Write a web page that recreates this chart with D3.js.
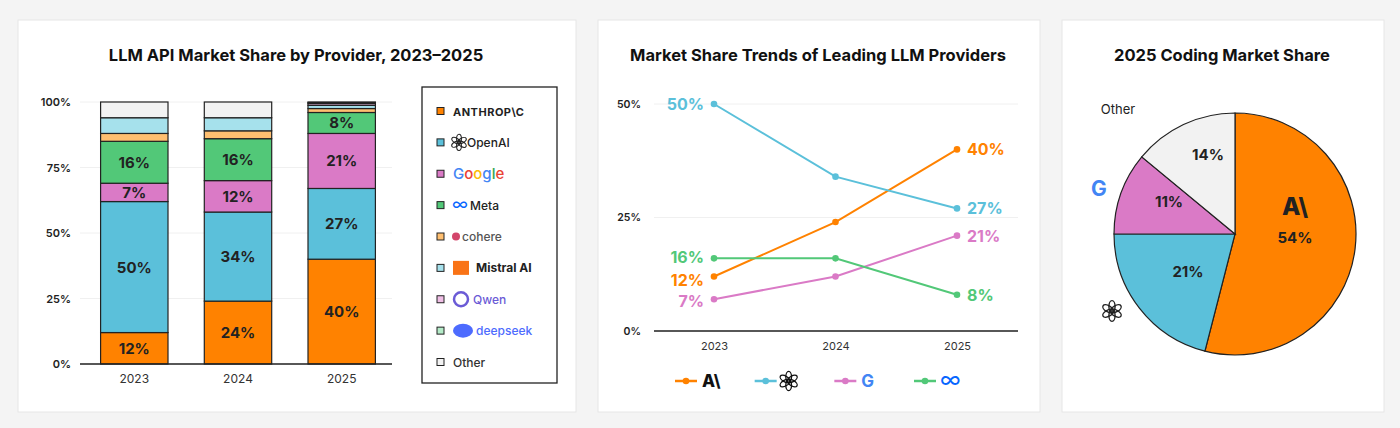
<!DOCTYPE html>
<html><head><meta charset="utf-8">
<script src="https://cdn.jsdelivr.net/npm/d3@7"></script>
<style>
body{margin:0;background:#f4f4f4;font-family:Inter,"Noto Sans",sans-serif;}
svg{display:block}
</style></head>
<body><svg id="c" width="1400" height="428"></svg>
<script>
// ---- data ----
const years = ['2023','2024','2025'];
const providers = ['ANTHROP\\C','OpenAI','Google','Meta','cohere','Mistral AI','Qwen','deepseek','Other'];
const keys = ['anthropic','openai','google','meta','cohere','mistral','qwen','deepseek','other'];
const share2023 = [12,50,7,16,3,6,0,0,6];
const share2024 = [24,34,12,16,3,5,0,0,6];
const share2025 = [40,27,21,8,1.5,1.2,0.7,0.4,0.2];
const fills = ['#ff8200','#5bc0da','#da7ac6','#52c878','#ffbf70','#a6e1ec','#f0bfe6','#b4ebc8','#f2f2f2'];
const yTicks = [0,25,50,75,100];
const lineKeys = ['anthropic','openai','google','meta'];
const lineColors = ['#ff8200','#5bc0da','#da7ac6','#52c878'];
const trendTicks = [0,25,50];
const pieLabels = ['anthropic','openai','google','other'];
const pieValues = [54,21,11,14];
const pieFills = ['#ff8200','#5bc0da','#da7ac6','#f2f2f2'];

const svg = d3.select('#c');
// panels
[[18,20,558,392],[598,20,442,392],[1062,20,322,392]].forEach(p=>{
  svg.append('rect').attr('x',p[0]).attr('y',p[1]).attr('width',p[2]).attr('height',p[3])
    .attr('fill','#fff').attr('stroke','#e6e6e6');
});
function title(x,y,t){svg.append('text').attr('x',x).attr('y',y).attr('text-anchor','middle')
  .attr('font-size',16.5).attr('font-weight',700).attr('fill','#111').text(t);}
title(296,61,'LLM API Market Share by Provider, 2023\u20132025');
title(818,61,'Market Share Trends of Leading LLM Providers');
title(1222,61,'2025 Coding Market Share');

// small logos
function openaiLogo(g,x,y,s,col){
  const l=g.append('g').attr('transform',`translate(${x},${y})`);
  for(let i=0;i<6;i++){
    l.append('ellipse').attr('cx',0).attr('cy',-s*0.32).attr('rx',s*0.22).attr('ry',s*0.42)
     .attr('transform',`rotate(${i*60})`).attr('fill','none').attr('stroke',col||'#111').attr('stroke-width',s*0.1);
  }
}
function googleG(g,x,y,s,anchor){
  g.append('text').attr('x',x).attr('y',y).attr('font-size',s).attr('font-weight',700)
   .attr('text-anchor',anchor||'start').attr('fill','#4285f4').text('G');
}

// ---- stacked bar ----
const bars = years.map((yr,i)=>{const v=[share2023,share2024,share2025][i];const o={year:yr};keys.forEach((k,j)=>o[k]=v[j]);return o;});
const x1 = d3.scaleBand().domain(years).range([84,392]).paddingInner(0.35).paddingOuter(0.16);
const y1 = d3.scaleLinear().domain([0,100]).range([364,102]);
const g1 = svg.append('g');
yTicks.forEach(t=>{
  g1.append('line').attr('x1',80).attr('x2',392).attr('y1',y1(t)).attr('y2',y1(t)).attr('stroke','#f0f0f0');
});
const stack = d3.stack().keys(keys)(bars);
stack.forEach((layer,li)=>{
  g1.selectAll(null).data(layer).join('rect')
    .attr('x',d=>x1(d.data.year)).attr('width',x1.bandwidth())
    .attr('y',d=>y1(d[1])).attr('height',d=>y1(d[0])-y1(d[1]))
    .attr('fill',fills[li]).attr('stroke','#222').attr('stroke-width',1.2);
  if(li<4) g1.selectAll(null).data(layer).join('text')
    .attr('x',d=>x1(d.data.year)+x1.bandwidth()/2).attr('y',d=>(y1(d[0])+y1(d[1]))/2+5.5)
    .attr('text-anchor','middle').attr('font-size',15).attr('font-weight',700).attr('fill','#222')
    .text(d=>(d[1]-d[0])+'%');
});
const ax1 = g1.append('g').attr('transform','translate(0,364)').call(d3.axisBottom(x1).tickSize(0).tickPadding(10));
ax1.select('.domain').attr('d','M80,0H392').attr('stroke','#222').attr('stroke-width',1.5);
ax1.selectAll('text').attr('font-size',12).attr('fill','#333').attr('font-family','Inter,sans-serif');
const ay1 = g1.append('g').attr('transform','translate(74,0)').call(d3.axisLeft(y1).tickValues(yTicks).tickSize(0).tickFormat(d=>d+'%'));
ay1.select('.domain').remove();
ay1.selectAll('text').attr('font-size',11).attr('font-weight',600).attr('fill','#222').attr('font-family','Inter,sans-serif');

// legend
const lg = svg.append('g');
lg.append('rect').attr('x',422).attr('y',87).attr('width',135).attr('height',296).attr('fill','#fff').attr('stroke','#222').attr('stroke-width',1.3);
const legY = d3.scalePoint().domain(providers).range([111,362]);
const legColors = ['#222','#222','#4285f4','#222','#555','#222','#6b5bd6','#4d6bfe','#333'];
providers.forEach((p,i)=>{
  const yy=legY(p);
  lg.append('rect').attr('x',437).attr('y',yy-3.5).attr('width',7).attr('height',7).attr('fill',fills[i]).attr('stroke','#222');
  let tx=453;
  if(p==='OpenAI'){openaiLogo(lg,459,yy,11,'#222');tx=467;}
  if(p==='Meta'){lg.append('text').attr('x',452).attr('y',yy+5).attr('font-size',17).attr('fill','#0866ff').text('\u221e');tx=470;}
  if(p==='cohere'){lg.append('circle').attr('cx',456).attr('cy',yy).attr('r',4).attr('fill','#d3466b');tx=462;}
  if(p==='Mistral AI'){lg.append('rect').attr('x',453).attr('y',yy-7).attr('width',16).attr('height',14).attr('fill','#f97316');tx=476;}
  if(p==='Qwen'){lg.append('circle').attr('cx',461).attr('cy',yy).attr('r',7).attr('fill','none').attr('stroke','#6b5bd6').attr('stroke-width',2.5);tx=473;}
  if(p==='deepseek'){lg.append('ellipse').attr('cx',463).attr('cy',yy).attr('rx',10).attr('ry',7).attr('fill','#4d6bfe');tx=476;}
  const t=lg.append('text').attr('x',tx).attr('y',yy+4.5).attr('fill',legColors[i]).text(p==='Google'?'':p)
    .attr('font-size',p==='Google'?15:12).attr('font-weight',(p==='ANTHROP\\C'||p==='Mistral AI')?700:500);
  if(p==='ANTHROP\\C') t.attr('font-size',11).attr('letter-spacing',0.5);
  if(p==='Google'){
    const gc=['#4285f4','#ea4335','#fbbc05','#4285f4','#34a853','#ea4335'];
    const tt=lg.append('text').attr('x',453).attr('y',yy+5).attr('font-size',15).attr('font-weight',500);
    'Google'.split('').forEach((c,k)=>tt.append('tspan').attr('fill',gc[k]).text(c));
  }
});

// ---- line chart ----
const x2 = d3.scalePoint().domain(years).range([714,957]);
const y2 = d3.scaleLinear().domain([0,50]).range([331,104]);
const g2 = svg.append('g');
trendTicks.forEach(t=>g2.append('line').attr('x1',654).attr('x2',1018).attr('y1',y2(t)).attr('y2',y2(t)).attr('stroke','#f0f0f0'));
const ax2=g2.append('g').attr('transform','translate(0,331)').call(d3.axisBottom(x2).tickSize(0).tickPadding(11));
ax2.select('.domain').attr('d','M654,0H1018').attr('stroke','#222').attr('stroke-width',1.5);
ax2.selectAll('text').attr('font-size',11).attr('fill','#333').attr('font-family','Inter,sans-serif');
const ay2=g2.append('g').attr('transform','translate(644,0)').call(d3.axisLeft(y2).tickValues(trendTicks).tickSize(0).tickFormat(d=>d+'%'));
ay2.select('.domain').remove();
ay2.selectAll('text').attr('font-size',10.5).attr('font-weight',600).attr('fill','#222').attr('font-family','Inter,sans-serif');
const ln=d3.line().x(d=>x2(d.year)).y(d=>y2(d.v));
lineKeys.forEach((k,i)=>{
  const pts=bars.map(b=>({year:b.year,v:b[k]}));
  g2.append('path').attr('d',ln(pts)).attr('fill','none').attr('stroke',lineColors[i]).attr('stroke-width',2);
  g2.selectAll(null).data(pts).join('circle').attr('cx',d=>x2(d.year)).attr('cy',d=>y2(d.v)).attr('r',3.3).attr('fill',lineColors[i]);
  const first=pts[0], last=pts[2];
  let fy=y2(first.v)+6; if(k==='anthropic') fy+=3; if(k==='meta') fy-=1; if(k==='google') fy+=2;
  g2.append('text').attr('x',704).attr('y',fy).attr('text-anchor','end').attr('font-size',16).attr('font-weight',700).attr('fill',lineColors[i]).text(first.v+'%');
  g2.append('text').attr('x',967).attr('y',y2(last.v)+6).attr('font-size',16).attr('font-weight',700).attr('fill',lineColors[i]).text(last.v+'%');
});
// line legend
const lx = d3.scalePoint().domain(lineKeys).range([675,914]);
lineKeys.forEach((k,i)=>{
  const xx=lx(k), yy=381;
  g2.append('line').attr('x1',xx).attr('x2',xx+22).attr('y1',yy).attr('y2',yy).attr('stroke',lineColors[i]).attr('stroke-width',2.5);
  g2.append('circle').attr('cx',xx+11).attr('cy',yy).attr('r',3.3).attr('fill',lineColors[i]);
  if(k==='anthropic') g2.append('text').attr('x',xx+27).attr('y',yy+6).attr('font-size',17).attr('font-weight',800).attr('fill','#111').text('A\\');
  if(k==='openai') openaiLogo(g2,xx+34,yy,13,'#111');
  if(k==='google') googleG(g2,xx+27,yy+6,17);
  if(k==='meta') g2.append('text').attr('x',xx+26).attr('y',yy+6).attr('font-size',22).attr('fill','#0866ff').text('\u221e');
});

// ---- pie ----
const cx=1235, cy=234, r=121;
const pie=d3.pie().sort(null).value(d=>d)(pieValues);
const arc=d3.arc().innerRadius(0).outerRadius(r);
const g3=svg.append('g').attr('transform',`translate(${cx},${cy})`);
g3.selectAll('path').data(pie).join('path').attr('d',arc).attr('fill',(d,i)=>pieFills[i]).attr('stroke','#222').attr('stroke-width',1.2);
const labPos=[[60,9],[-47,43],[-66,-27],[-27,-74]];
pie.forEach((d,i)=>{
  g3.append('text').attr('x',labPos[i][0]).attr('y',labPos[i][1]).attr('text-anchor','middle')
    .attr('font-size',15).attr('font-weight',700).attr('fill','#222').text(d.data+'%');
});
g3.append('text').attr('x',60).attr('y',-19).attr('text-anchor','middle').attr('font-size',24).attr('font-weight',800).attr('fill','#222').text('A\\');
g3.append('text').attr('x',-117).attr('y',-120).attr('text-anchor','middle').attr('font-size',13).attr('fill','#222').text('Other');
googleG(g3,-144,-38,21);
openaiLogo(g3,-123,77,14,'#222');
</script></body></html>
